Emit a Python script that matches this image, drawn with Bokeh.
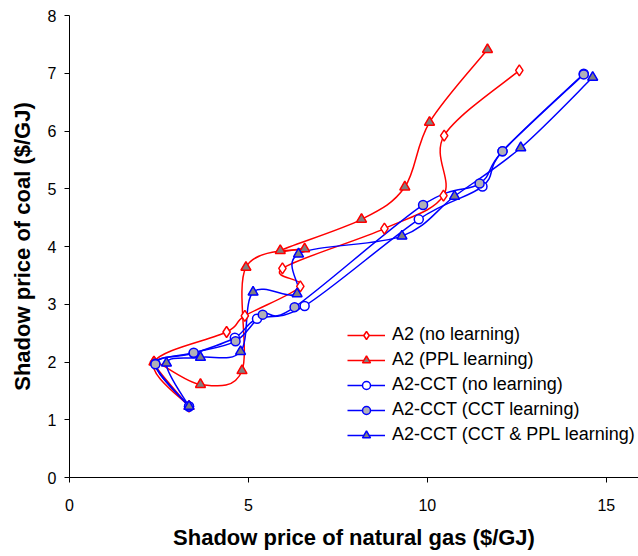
import numpy as np
from bokeh.plotting import figure
from bokeh.models import Range1d, FixedTicker, Legend, LegendItem
from bokeh.embed import file_html
from bokeh.resources import INLINE

# Data (shadow price of natural gas vs coal, $/GJ)
gas_a2_nl = [3.34, 2.36, 4.39, 4.90, 6.45, 5.95, 8.80, 10.45, 10.47, 12.57]
coal_a2_nl = [1.23, 2.00, 2.52, 2.80, 3.31, 3.62, 4.31, 4.88, 5.92, 7.05]

gas_a2_ppl = [3.34, 2.36, 3.66, 4.82, 4.93, 6.57, 5.89, 8.16, 9.37, 10.06, 11.68]
coal_a2_ppl = [1.23, 2.00, 1.61, 1.85, 3.64, 3.96, 3.93, 4.47, 5.03, 6.15, 7.41]

gas_cct_nl = [3.34, 2.40, 3.47, 4.62, 5.24, 6.57, 9.76, 11.54, 12.10, 14.37]
coal_cct_nl = [1.23, 1.97, 2.15, 2.42, 2.75, 2.97, 4.47, 5.04, 5.65, 6.99]

gas_cct_l = [3.34, 2.40, 3.47, 4.64, 5.40, 6.29, 9.88, 11.46, 12.10, 14.37]
coal_cct_l = [1.23, 1.96, 2.16, 2.36, 2.82, 2.95, 4.72, 5.09, 5.65, 6.98]

gas_cct_ppl = [3.34, 2.71, 3.66, 4.78, 5.13, 6.36, 6.40, 9.29, 10.76, 12.61, 14.62]
coal_cct_ppl = [1.23, 1.98, 2.08, 2.18, 3.21, 3.18, 3.87, 4.18, 4.87, 5.71, 6.93]

x_ticks = [0, 5, 10, 15]
y_ticks = [0, 1, 2, 3, 4, 5, 6, 7, 8]

series_names = [
    "A2 (no learning)",
    "A2 (PPL learning)",
    "A2-CCT (no learning)",
    "A2-CCT (CCT learning)",
    "A2-CCT (CCT & PPL learning)",
]

FONT = "Liberation Sans"
RED = "#FF0000"
BLUE = "#0000FF"
GRAY_TRI = "#808080"
GRAY_CIR = "#B0B0B8"


def smooth_segments(xs, ys):
    """Catmull-Rom style Bezier control points (like a spreadsheet 'smoothed line')."""
    x = np.asarray(xs, dtype=float)
    y = np.asarray(ys, dtype=float)
    xp = np.concatenate([[x[0]], x, [x[-1]]])
    yp = np.concatenate([[y[0]], y, [y[-1]]])
    x0, y0 = xp[1:-2], yp[1:-2]
    x1, y1 = xp[2:-1], yp[2:-1]
    cx0 = x0 + (xp[2:-1] - xp[:-3]) / 6.0
    cy0 = y0 + (yp[2:-1] - yp[:-3]) / 6.0
    cx1 = x1 - (xp[3:] - xp[1:-2]) / 6.0
    cy1 = y1 - (yp[3:] - yp[1:-2]) / 6.0
    return dict(x0=x0, y0=y0, x1=x1, y1=y1, cx0=cx0, cy0=cy0, cx1=cx1, cy1=cy1)


p = figure(width=638, height=556, output_backend="svg", toolbar_location=None,
           x_range=Range1d(0, 15.9), y_range=Range1d(0, 8),
           min_border_left=69, min_border_right=0, min_border_top=15, min_border_bottom=79)
p.outline_line_color = None
p.xgrid.visible = False
p.ygrid.visible = False
p.background_fill_color = "white"

for ax in (p.xaxis[0], p.yaxis[0]):
    ax.major_tick_out = 5
    ax.major_tick_in = 0
    ax.minor_tick_out = 0
    ax.minor_tick_in = 0
    ax.axis_line_color = "black"
    ax.major_tick_line_color = "black"
    ax.major_label_text_font = FONT
    ax.major_label_text_font_size = "16px"
    ax.major_label_text_color = "black"
    ax.axis_label_text_font = FONT
    ax.axis_label_text_font_size = "22px"
    ax.axis_label_text_font_style = "bold"
    ax.axis_label_text_color = "black"

p.xaxis[0].ticker = FixedTicker(ticks=x_ticks)
p.yaxis[0].ticker = FixedTicker(ticks=y_ticks)
p.xaxis[0].axis_label = "Shadow price of natural gas ($/GJ)"
p.yaxis[0].axis_label = "Shadow price of coal ($/GJ)"
p.xaxis[0].major_label_standoff = 16
p.yaxis[0].major_label_standoff = 8
p.xaxis[0].axis_label_standoff = 11
p.yaxis[0].axis_label_standoff = 10

series = [
    (gas_a2_nl, coal_a2_nl, RED, "diamond", "white", 11, 8),
    (gas_a2_ppl, coal_a2_ppl, RED, "triangle", GRAY_TRI, 10, 8),
    (gas_cct_nl, coal_cct_nl, BLUE, "circle", "white", 9, 6),
    (gas_cct_l, coal_cct_l, BLUE, "circle", GRAY_CIR, 9, 6),
    (gas_cct_ppl, coal_cct_ppl, BLUE, "triangle", GRAY_TRI, 10, 8),
]

items = []
for name, (xs, ys, col, mk, fill, big, small) in zip(series_names, series):
    seg = smooth_segments(xs, ys)
    br = p.bezier(x0=seg["x0"], y0=seg["y0"], x1=seg["x1"], y1=seg["y1"],
                  cx0=seg["cx0"], cy0=seg["cy0"], cx1=seg["cx1"], cy1=seg["cy1"],
                  line_color=col, line_width=1.5)
    # small markers (hidden beneath the plot markers) give the legend its smaller symbols
    sr = p.scatter(xs, ys, marker=mk, size=small, fill_color=fill, line_color=col, line_width=1.5)
    items.append(LegendItem(label=name, renderers=[br, sr]))

for xs, ys, col, mk, fill, big, small in series:
    p.scatter(xs, ys, marker=mk, size=big, fill_color=fill, line_color=col, line_width=1.5)

legend = Legend(items=items, location=(278, 32), padding=0, margin=0, spacing=4,
                glyph_width=38, glyph_height=20, label_height=20, label_standoff=7,
                label_text_font=FONT, label_text_font_size="18px", label_text_color="black",
                border_line_color=None, background_fill_alpha=0)
p.add_layout(legend, "center")

open("out.html", "w").write(file_html(p, INLINE))
